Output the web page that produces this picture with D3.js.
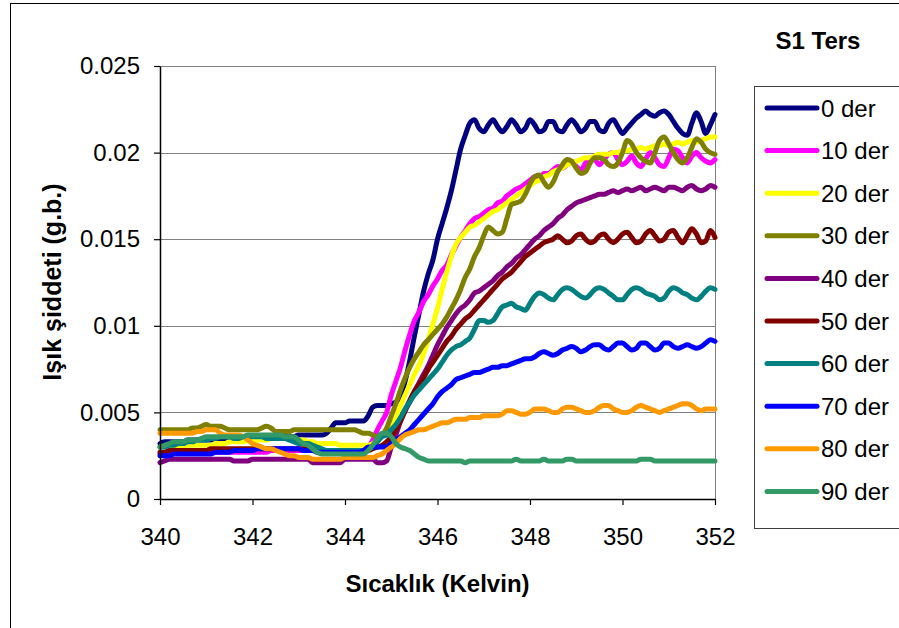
<!DOCTYPE html>
<html>
<head>
<meta charset="utf-8">
<script src="https://cdn.jsdelivr.net/npm/d3@7"></script>
<style>
  body { margin: 0; background: #fff; }
  svg { display: block; }
  text { font-family: "Liberation Sans", Arial, sans-serif; fill: #000; }
</style>
</head>
<body>
<svg id="chart" width="899" height="628"></svg>
<script>
// Temperature grid (K)
const temperatures = [
  340.0,340.1,340.2,340.3,340.4,340.5,340.6,340.7,340.8,340.9,
  341.0,341.1,341.2,341.3,341.4,341.5,341.6,341.7,341.8,341.9,
  342.0,342.1,342.2,342.3,342.4,342.5,342.6,342.7,342.8,342.9,
  343.0,343.1,343.2,343.3,343.4,343.5,343.6,343.7,343.8,343.9,
  344.0,344.1,344.2,344.3,344.4,344.5,344.6,344.7,344.8,344.9,
  345.0,345.1,345.2,345.3,345.4,345.5,345.6,345.7,345.8,345.9,
  346.0,346.1,346.2,346.3,346.4,346.5,346.6,346.7,346.8,346.9,
  347.0,347.1,347.2,347.3,347.4,347.5,347.6,347.7,347.8,347.9,
  348.0,348.1,348.2,348.3,348.4,348.5,348.6,348.7,348.8,348.9,
  349.0,349.1,349.2,349.3,349.4,349.5,349.6,349.7,349.8,349.9,
  350.0,350.1,350.2,350.3,350.4,350.5,350.6,350.7,350.8,350.9,
  351.0,351.1,351.2,351.3,351.4,351.5,351.6,351.7,351.8,351.9,
  352.0
];

// Light intensity (a.u.) for each polarizer angle
const der0 = [
  0.0032,0.0033,0.0033,0.0033,0.0033,0.0033,0.0034,0.0034,0.0034,0.0034,0.0034,
  0.0034,0.0034,0.0035,0.0035,0.0035,0.0035,0.0035,0.0035,0.0035,0.0035,
  0.0035,0.0035,0.0035,0.0035,0.0036,0.0036,0.0036,0.0036,0.0036,0.0037,
  0.0037,0.0037,0.0037,0.0037,0.0037,0.0038,0.0041,0.0044,0.0044,0.0044,
  0.0045,0.0045,0.0045,0.0045,0.0048,0.0053,0.0054,0.0054,0.0054,0.0055,
  0.0056,0.0059,0.0068,0.0080,0.0094,0.0107,0.0120,0.0130,0.0138,0.0150,
  0.0159,0.0168,0.0178,0.0190,0.0202,0.0210,0.0217,0.0219,0.0214,0.0212,
  0.0216,0.0219,0.0215,0.0212,0.0215,0.0219,0.0216,0.0212,0.0214,0.0219,
  0.0216,0.0212,0.0213,0.0218,0.0218,0.0213,0.0212,0.0216,0.0219,0.0216,
  0.0212,0.0214,0.0218,0.0218,0.0213,0.0212,0.0217,0.0219,0.0215,0.0211,
  0.0214,0.0217,0.0220,0.0222,0.0224,0.0222,0.0221,0.0223,0.0224,0.0222,
  0.0218,0.0214,0.0211,0.0210,0.0217,0.0223,0.0218,0.0211,0.0216,0.0222
];
const der10 = [
  0.0026,0.0027,0.0027,0.0027,0.0027,0.0027,0.0027,0.0027,0.0027,0.0027,0.0027,
  0.0027,0.0027,0.0027,0.0027,0.0027,0.0027,0.0027,0.0027,0.0027,0.0027,
  0.0027,0.0027,0.0027,0.0028,0.0028,0.0028,0.0028,0.0028,0.0028,0.0028,
  0.0028,0.0028,0.0028,0.0028,0.0028,0.0028,0.0028,0.0028,0.0028,0.0028,
  0.0028,0.0028,0.0028,0.0028,0.0030,0.0034,0.0040,0.0045,0.0050,0.0060,
  0.0068,0.0076,0.0086,0.0095,0.0103,0.0108,0.0114,0.0118,0.0123,0.0127,
  0.0132,0.0135,0.0141,0.0146,0.0151,0.0155,0.0159,0.0162,0.0163,0.0165,
  0.0167,0.0168,0.0171,0.0172,0.0175,0.0177,0.0179,0.0180,0.0182,0.0184,
  0.0186,0.0185,0.0188,0.0188,0.0190,0.0192,0.0191,0.0193,0.0195,0.0192,
  0.0190,0.0194,0.0197,0.0196,0.0193,0.0196,0.0199,0.0200,0.0196,0.0193,
  0.0195,0.0198,0.0194,0.0192,0.0196,0.0200,0.0197,0.0193,0.0192,0.0197,
  0.0202,0.0201,0.0197,0.0194,0.0198,0.0200,0.0197,0.0195,0.0194,0.0196
];
const der20 = [
  0.0030,0.0030,0.0030,0.0030,0.0030,0.0030,0.0031,0.0031,0.0031,0.0031,0.0031,
  0.0031,0.0032,0.0032,0.0032,0.0033,0.0033,0.0033,0.0033,0.0034,0.0034,
  0.0034,0.0034,0.0034,0.0035,0.0035,0.0035,0.0035,0.0035,0.0035,0.0034,
  0.0034,0.0033,0.0033,0.0032,0.0032,0.0032,0.0032,0.0032,0.0031,0.0031,
  0.0031,0.0031,0.0031,0.0031,0.0031,0.0032,0.0034,0.0037,0.0040,0.0044,
  0.0048,0.0054,0.0060,0.0066,0.0072,0.0077,0.0084,0.0092,0.0101,0.0110,
  0.0121,0.0131,0.0140,0.0147,0.0151,0.0154,0.0157,0.0158,0.0160,0.0162,
  0.0164,0.0166,0.0167,0.0169,0.0171,0.0173,0.0175,0.0177,0.0179,0.0181,
  0.0183,0.0184,0.0186,0.0187,0.0189,0.0190,0.0191,0.0193,0.0194,0.0195,
  0.0196,0.0197,0.0197,0.0198,0.0199,0.0199,0.0199,0.0200,0.0200,0.0201,
  0.0201,0.0202,0.0202,0.0203,0.0202,0.0203,0.0204,0.0204,0.0205,0.0204,
  0.0205,0.0206,0.0205,0.0206,0.0207,0.0206,0.0207,0.0208,0.0209,0.0209
];
const der30 = [
  0.0040,0.0040,0.0040,0.0040,0.0040,0.0040,0.0040,0.0041,0.0041,0.0042,0.0043,
  0.0042,0.0042,0.0042,0.0041,0.0040,0.0040,0.0040,0.0040,0.0040,0.0040,
  0.0040,0.0041,0.0042,0.0041,0.0039,0.0039,0.0039,0.0039,0.0040,0.0040,
  0.0040,0.0040,0.0040,0.0040,0.0040,0.0040,0.0040,0.0040,0.0040,0.0040,
  0.0040,0.0040,0.0039,0.0038,0.0038,0.0037,0.0036,0.0037,0.0041,0.0048,
  0.0055,0.0063,0.0070,0.0076,0.0081,0.0085,0.0089,0.0092,0.0095,0.0098,
  0.0101,0.0105,0.0110,0.0115,0.0121,0.0128,0.0133,0.0140,0.0145,0.0152,
  0.0157,0.0155,0.0153,0.0154,0.0162,0.0170,0.0171,0.0172,0.0176,0.0182,
  0.0186,0.0187,0.0183,0.0180,0.0183,0.0189,0.0193,0.0196,0.0195,0.0191,
  0.0188,0.0189,0.0194,0.0197,0.0197,0.0196,0.0193,0.0192,0.0194,0.0200,
  0.0207,0.0205,0.0200,0.0197,0.0195,0.0194,0.0200,0.0207,0.0209,0.0205,
  0.0200,0.0196,0.0194,0.0197,0.0203,0.0208,0.0206,0.0202,0.0200,0.0199
];
const der40 = [
  0.0021,0.0022,0.0023,0.0023,0.0023,0.0023,0.0023,0.0023,0.0023,0.0023,0.0023,
  0.0023,0.0023,0.0023,0.0023,0.0023,0.0022,0.0022,0.0022,0.0022,0.0023,
  0.0023,0.0023,0.0023,0.0023,0.0023,0.0023,0.0023,0.0023,0.0023,0.0023,
  0.0023,0.0023,0.0021,0.0021,0.0021,0.0021,0.0021,0.0021,0.0021,0.0023,
  0.0023,0.0023,0.0023,0.0023,0.0023,0.0023,0.0021,0.0021,0.0022,0.0030,
  0.0037,0.0045,0.0051,0.0056,0.0062,0.0067,0.0072,0.0077,0.0083,0.0089,
  0.0094,0.0099,0.0103,0.0107,0.0110,0.0112,0.0115,0.0119,0.0120,0.0122,
  0.0124,0.0126,0.0129,0.0131,0.0134,0.0136,0.0139,0.0141,0.0144,0.0147,
  0.0150,0.0152,0.0155,0.0157,0.0159,0.0162,0.0164,0.0167,0.0169,0.0171,
  0.0172,0.0173,0.0174,0.0175,0.0176,0.0176,0.0177,0.0178,0.0177,0.0178,
  0.0179,0.0178,0.0179,0.0180,0.0178,0.0179,0.0180,0.0179,0.0178,0.0180,
  0.0180,0.0179,0.0178,0.0180,0.0181,0.0179,0.0178,0.0179,0.0181,0.0180
];
const der50 = [
  0.0027,0.0027,0.0028,0.0028,0.0028,0.0028,0.0028,0.0028,0.0028,0.0028,0.0028,
  0.0029,0.0029,0.0029,0.0029,0.0029,0.0029,0.0029,0.0029,0.0029,0.0029,
  0.0029,0.0029,0.0029,0.0029,0.0029,0.0029,0.0029,0.0029,0.0029,0.0029,
  0.0029,0.0029,0.0029,0.0029,0.0028,0.0028,0.0028,0.0028,0.0028,0.0028,
  0.0028,0.0028,0.0028,0.0028,0.0028,0.0029,0.0030,0.0031,0.0033,0.0036,
  0.0040,0.0045,0.0051,0.0057,0.0062,0.0066,0.0070,0.0075,0.0079,0.0083,
  0.0087,0.0091,0.0094,0.0098,0.0101,0.0104,0.0106,0.0109,0.0112,0.0115,
  0.0118,0.0121,0.0124,0.0127,0.0129,0.0131,0.0134,0.0137,0.0140,0.0142,
  0.0144,0.0146,0.0148,0.0149,0.0150,0.0152,0.0150,0.0148,0.0149,0.0152,
  0.0153,0.0150,0.0148,0.0149,0.0152,0.0153,0.0150,0.0148,0.0150,0.0153,
  0.0154,0.0151,0.0148,0.0149,0.0153,0.0155,0.0152,0.0149,0.0150,0.0154,
  0.0155,0.0151,0.0148,0.0152,0.0156,0.0153,0.0148,0.0149,0.0155,0.0151
];
const der60 = [
  0.0030,0.0030,0.0031,0.0031,0.0032,0.0032,0.0033,0.0033,0.0034,0.0034,0.0034,
  0.0035,0.0035,0.0036,0.0036,0.0036,0.0035,0.0035,0.0036,0.0036,0.0036,
  0.0036,0.0036,0.0035,0.0035,0.0035,0.0035,0.0035,0.0034,0.0033,0.0032,
  0.0032,0.0032,0.0031,0.0030,0.0029,0.0028,0.0028,0.0028,0.0028,0.0028,
  0.0028,0.0028,0.0028,0.0028,0.0029,0.0030,0.0033,0.0036,0.0037,0.0040,
  0.0043,0.0047,0.0052,0.0056,0.0060,0.0063,0.0066,0.0069,0.0072,0.0075,
  0.0079,0.0083,0.0086,0.0088,0.0089,0.0091,0.0093,0.0098,0.0103,0.0103,
  0.0102,0.0103,0.0107,0.0111,0.0112,0.0113,0.0111,0.0110,0.0109,0.0113,
  0.0117,0.0119,0.0118,0.0116,0.0115,0.0118,0.0121,0.0122,0.0121,0.0119,
  0.0117,0.0116,0.0118,0.0121,0.0122,0.0121,0.0119,0.0117,0.0115,0.0115,
  0.0118,0.0121,0.0122,0.0121,0.0119,0.0118,0.0117,0.0115,0.0116,0.0120,
  0.0122,0.0121,0.0119,0.0118,0.0116,0.0115,0.0117,0.0120,0.0122,0.0121
];
const der70 = [
  0.0025,0.0025,0.0025,0.0026,0.0026,0.0026,0.0026,0.0026,0.0026,0.0026,0.0026,
  0.0026,0.0027,0.0027,0.0027,0.0027,0.0028,0.0028,0.0028,0.0028,0.0028,
  0.0029,0.0029,0.0029,0.0029,0.0029,0.0029,0.0029,0.0029,0.0029,0.0029,
  0.0028,0.0028,0.0028,0.0027,0.0027,0.0027,0.0027,0.0027,0.0027,0.0027,
  0.0027,0.0027,0.0027,0.0028,0.0030,0.0030,0.0030,0.0030,0.0030,0.0032,
  0.0034,0.0036,0.0038,0.0040,0.0043,0.0046,0.0049,0.0052,0.0055,0.0059,
  0.0062,0.0064,0.0066,0.0069,0.0070,0.0071,0.0072,0.0073,0.0073,0.0074,
  0.0075,0.0076,0.0076,0.0077,0.0077,0.0078,0.0079,0.0080,0.0081,0.0081,
  0.0082,0.0084,0.0085,0.0084,0.0083,0.0084,0.0086,0.0087,0.0088,0.0087,
  0.0085,0.0086,0.0088,0.0089,0.0089,0.0087,0.0086,0.0088,0.0090,0.0090,
  0.0088,0.0086,0.0087,0.0090,0.0090,0.0088,0.0086,0.0087,0.0090,0.0090,
  0.0088,0.0087,0.0088,0.0089,0.0088,0.0087,0.0088,0.0090,0.0092,0.0091
];
const der80 = [
  0.0038,0.0038,0.0038,0.0038,0.0038,0.0038,0.0038,0.0038,0.0039,0.0039,0.0040,
  0.0040,0.0040,0.0038,0.0037,0.0037,0.0037,0.0037,0.0036,0.0034,0.0032,
  0.0031,0.0030,0.0029,0.0029,0.0028,0.0027,0.0026,0.0025,0.0025,0.0024,
  0.0024,0.0024,0.0023,0.0023,0.0023,0.0023,0.0023,0.0023,0.0023,0.0024,
  0.0024,0.0024,0.0024,0.0024,0.0024,0.0024,0.0025,0.0026,0.0028,0.0030,
  0.0032,0.0035,0.0037,0.0038,0.0039,0.0040,0.0040,0.0041,0.0042,0.0043,
  0.0044,0.0044,0.0045,0.0046,0.0046,0.0046,0.0047,0.0047,0.0047,0.0048,
  0.0048,0.0048,0.0048,0.0049,0.0051,0.0051,0.0050,0.0049,0.0049,0.0050,
  0.0052,0.0052,0.0052,0.0051,0.0050,0.0050,0.0052,0.0053,0.0053,0.0052,
  0.0051,0.0050,0.0050,0.0051,0.0053,0.0054,0.0054,0.0052,0.0051,0.0050,
  0.0050,0.0051,0.0053,0.0054,0.0053,0.0052,0.0051,0.0050,0.0051,0.0052,
  0.0053,0.0054,0.0055,0.0055,0.0054,0.0052,0.0051,0.0052,0.0052,0.0052
];
const der90 = [
  0.0030,0.0031,0.0032,0.0033,0.0033,0.0033,0.0034,0.0034,0.0034,0.0035,0.0036,
  0.0036,0.0036,0.0036,0.0036,0.0036,0.0036,0.0036,0.0036,0.0037,0.0037,
  0.0037,0.0037,0.0037,0.0037,0.0037,0.0037,0.0036,0.0036,0.0036,0.0034,
  0.0032,0.0031,0.0029,0.0027,0.0026,0.0026,0.0026,0.0026,0.0026,0.0026,
  0.0026,0.0026,0.0026,0.0026,0.0028,0.0031,0.0035,0.0038,0.0038,0.0036,
  0.0032,0.0030,0.0029,0.0028,0.0026,0.0024,0.0023,0.0022,0.0022,0.0022,
  0.0022,0.0022,0.0022,0.0022,0.0022,0.0021,0.0022,0.0022,0.0022,0.0022,
  0.0022,0.0022,0.0022,0.0022,0.0022,0.0022,0.0023,0.0022,0.0022,0.0022,
  0.0022,0.0022,0.0023,0.0022,0.0022,0.0022,0.0022,0.0023,0.0023,0.0022,
  0.0022,0.0022,0.0022,0.0022,0.0022,0.0022,0.0022,0.0022,0.0022,0.0022,
  0.0022,0.0022,0.0022,0.0023,0.0023,0.0023,0.0022,0.0022,0.0022,0.0022,
  0.0022,0.0022,0.0022,0.0022,0.0022,0.0022,0.0022,0.0022,0.0022,0.0022
];

const seriesNames = ["0 der", "10 der", "20 der", "30 der", "40 der",
                     "50 der", "60 der", "70 der", "80 der", "90 der"];
const seriesColors = ["#000080", "#FF00FF", "#FFFF00", "#808000", "#800080",
                      "#800000", "#008080", "#0000FF", "#FF9900", "#339966"];
const seriesValues = [der0, der10, der20, der30, der40, der50, der60, der70, der80, der90];

const xTicks = [340, 342, 344, 346, 348, 350, 352];
const yTicks = [0, 0.005, 0.01, 0.015, 0.02, 0.025];
const yTickLabels = ["0", "0.005", "0.01", "0.015", "0.02", "0.025"];

const chartTitle = "S1 Ters";
const xTitle = "Sıcaklık (Kelvin)";
const yTitle = "Işık şiddeti (g.b.)";

// ---------------------------------------------------------------
const svg = d3.select("#chart");
const plot = { left: 160, right: 715, top: 66, bottom: 499 };

const x = d3.scaleLinear().domain([340, 352]).range([plot.left, plot.right]);
const y = d3.scaleLinear().domain([0, 0.025]).range([plot.bottom, plot.top]);

// outer chart frame
svg.append("rect")
  .attr("x", 10.5).attr("y", 3.5)
  .attr("width", 1000).attr("height", 1000)
  .attr("fill", "none").attr("stroke", "#000").attr("stroke-width", 1);

// horizontal gridlines
svg.append("g").selectAll("line")
  .data(yTicks.filter(d => d > 0))
  .join("line")
  .attr("x1", plot.left).attr("x2", plot.right)
  .attr("y1", d => Math.round(y(d)) + 0.5).attr("y2", d => Math.round(y(d)) + 0.5)
  .attr("stroke", "#808080").attr("stroke-width", 1);

// right edge of plot area
svg.append("line")
  .attr("x1", plot.right + 0.5).attr("x2", plot.right + 0.5)
  .attr("y1", plot.top).attr("y2", plot.bottom)
  .attr("stroke", "#808080").attr("stroke-width", 1);

// data lines
const line = d3.line()
  .x((d, i) => x(temperatures[i]))
  .y(d => y(d))
  .curve(d3.curveMonotoneX);

svg.append("g").selectAll("path")
  .data(seriesValues)
  .join("path")
  .attr("d", d => line(d))
  .attr("fill", "none")
  .attr("stroke", (d, i) => seriesColors[i])
  .attr("stroke-width", 5)
  .attr("stroke-linejoin", "round")
  .attr("stroke-linecap", "round");

// axes
const yAxis = svg.append("g")
  .attr("transform", `translate(${plot.left},0)`)
  .call(d3.axisLeft(y).tickValues(yTicks)
    .tickFormat((d, i) => yTickLabels[i])
    .tickSize(6).tickSizeOuter(0).tickPadding(14));

const xAxis = svg.append("g")
  .attr("transform", `translate(0,${plot.bottom})`)
  .call(d3.axisBottom(x).tickValues(xTicks)
    .tickFormat(d3.format("d"))
    .tickSize(6).tickSizeOuter(0).tickPadding(23));

[yAxis, xAxis].forEach(g => {
  g.select(".domain").attr("stroke", "#000").attr("stroke-width", 1.5);
  g.selectAll(".tick line").attr("stroke", "#000").attr("stroke-width", 1.2);
  g.selectAll(".tick text")
    .attr("font-family", '"Liberation Sans", Arial, sans-serif')
    .attr("font-size", 24).attr("fill", "#000");
});

// axis titles
svg.append("text")
  .attr("x", (plot.left + plot.right) / 2).attr("y", 583)
  .attr("text-anchor", "middle").attr("dominant-baseline", "central")
  .attr("font-size", 24).attr("font-weight", "bold")
  .text(xTitle);

svg.append("text")
  .attr("transform", "translate(52,282) rotate(-90)")
  .attr("text-anchor", "middle").attr("dominant-baseline", "central")
  .attr("font-size", 25).attr("font-weight", "bold")
  .text(yTitle);

// legend title
svg.append("text")
  .attr("x", 818).attr("y", 40)
  .attr("text-anchor", "middle").attr("dominant-baseline", "central")
  .attr("font-size", 24).attr("font-weight", "bold")
  .text(chartTitle);

// legend
const legend = svg.append("g");
legend.append("rect")
  .attr("x", 754.5).attr("y", 86.5)
  .attr("width", 200).attr("height", 442)
  .attr("fill", "#fff").attr("stroke", "#404040").attr("stroke-width", 1);

const entries = legend.selectAll("g.entry")
  .data(seriesNames)
  .join("g")
  .attr("class", "entry")
  .attr("transform", (d, i) => `translate(0,${108 + i * 42.6})`);

entries.append("line")
  .attr("x1", 767).attr("x2", 817)
  .attr("y1", 0).attr("y2", 0)
  .attr("stroke", (d, i) => seriesColors[i])
  .attr("stroke-width", 5)
  .attr("stroke-linecap", "round");

entries.append("text")
  .attr("x", 821).attr("y", 0)
  .attr("dominant-baseline", "central")
  .attr("font-size", 24)
  .text(d => d);
</script>
</body>
</html>
